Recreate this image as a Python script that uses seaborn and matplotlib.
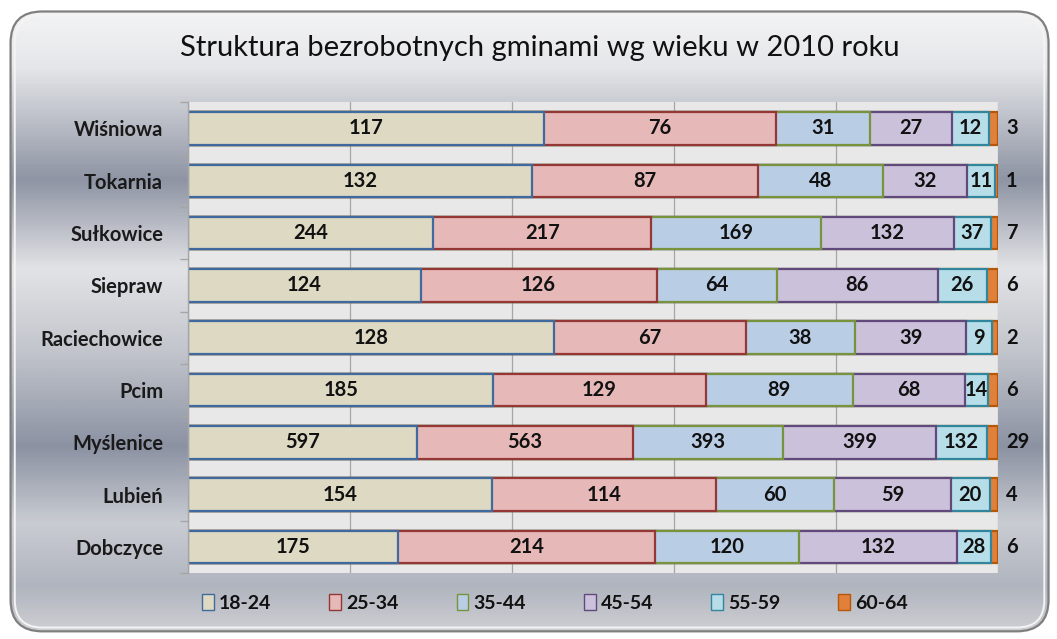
import numpy as np
import pandas as pd
import matplotlib
matplotlib.use("Agg")
import matplotlib.pyplot as plt
import seaborn as sns
from matplotlib.colors import LinearSegmentedColormap
from matplotlib.patches import FancyBboxPatch, Patch

# ---------------- data ----------------
title = "Struktura bezrobotnych gminami wg wieku w 2010 roku"
gminy = ["Wiśniowa", "Tokarnia", "Sułkowice", "Siepraw", "Raciechowice",
         "Pcim", "Myślenice", "Lubień", "Dobczyce"]
age_groups = ["18-24", "25-34", "35-44", "45-54", "55-59", "60-64"]
v_18_24 = [117, 132, 244, 124, 128, 185, 597, 154, 175]
v_25_34 = [76, 87, 217, 126, 67, 129, 563, 114, 214]
v_35_44 = [31, 48, 169, 64, 38, 89, 393, 60, 120]
v_45_54 = [27, 32, 132, 86, 39, 68, 399, 59, 132]
v_55_59 = [12, 11, 37, 26, 9, 14, 132, 20, 28]
v_60_64 = [3, 1, 7, 6, 2, 6, 29, 4, 6]

fills = ["#DDD9C3", "#E6B9B8", "#B9CDE5", "#CCC1DA", "#B7DEE8", "#E0803A"]
edges = ["#3F6A9E", "#953735", "#77933C", "#604A7B", "#31859C", "#B65708"]

series = [v_18_24, v_25_34, v_35_44, v_45_54, v_55_59, v_60_64]
rows = []
for gi, g in enumerate(gminy):
    tot = sum(s[gi] for s in series)
    cum = 0.0
    for ai, a in enumerate(age_groups):
        val = series[ai][gi]
        share = val / tot
        cum += share
        rows.append(dict(gmina=g, group=a, value=val, share=share, cum=cum))
df = pd.DataFrame(rows)

# ---------------- style ----------------
sns.set_theme(style="white")
plt.rcParams["font.family"] = ["Lato", "DejaVu Sans"]

fig = plt.figure(figsize=(10.57, 6.39), dpi=100, facecolor="white")

# background gradient with rounded frame
bg = fig.add_axes([0, 0, 1, 1], zorder=-10)
bg.set_xlim(0, 1)
bg.set_ylim(0, 1)
bg.axis("off")
stops = [(0.0, "#d2d3d6"), (0.08, "#b0b4be"), (0.18, "#c9ccd2"), (0.30, "#8b92a2"),
         (0.45, "#c2c5cc"), (0.58, "#e2e3e6"), (0.72, "#8e94a3"),
         (0.90, "#e6e7ea"), (1.0, "#f6f6f6")]
cmap = LinearSegmentedColormap.from_list("silver", stops)
grad = np.linspace(0, 1, 400).reshape(-1, 1)
im = bg.imshow(grad, aspect="auto", cmap=cmap, extent=[0, 1, 0, 1], origin="lower")
frame = FancyBboxPatch((0.010, 0.012), 0.982, 0.970,
                       boxstyle="round,pad=0,rounding_size=0.03",
                       transform=bg.transAxes, facecolor="none",
                       edgecolor="#7f7f7f", linewidth=1.6, mutation_aspect=1.65)
bg.add_patch(frame)
im.set_clip_path(frame)
inner = FancyBboxPatch((0.014, 0.018), 0.974, 0.958,
                       boxstyle="round,pad=0,rounding_size=0.026",
                       transform=bg.transAxes, facecolor="none",
                       edgecolor="#f4f4f4", linewidth=1.4, mutation_aspect=1.65)
bg.add_patch(inner)

# main axes
ax = fig.add_axes([0.178, 0.103, 0.766, 0.737])
ax.set_facecolor("#E8E8E8")

for ai in reversed(range(len(age_groups))):
    sub = df[df["group"] == age_groups[ai]]
    sns.barplot(data=sub, x="cum", y="gmina", order=gminy, orient="h",
                color=fills[ai], edgecolor=edges[ai], linewidth=1.6,
                saturation=1, width=0.62, ax=ax, errorbar=None)

ax.set_xlim(0, 1)
ax.set_ylim(8.5, -0.5)
ax.set_xticks([0, 0.2, 0.4, 0.6, 0.8, 1.0])
ax.set_xticklabels([])
ax.tick_params(axis="x", length=0)
ax.grid(axis="x", color="#A6A6A6", linewidth=0.9)
ax.set_axisbelow(True)
ax.set_xlabel("")
ax.set_ylabel("")
for s in ["top", "right", "bottom"]:
    ax.spines[s].set_visible(False)
ax.spines["left"].set_color("#A6A6A6")
ax.spines["left"].set_linewidth(1.0)
ax.set_yticks(range(len(gminy)))
ax.set_yticklabels(gminy, fontsize=14.5, fontweight="bold", color="#1a1a1a")
ax.set_yticks(np.arange(-0.5, len(gminy), 1), minor=True)
ax.tick_params(axis="y", which="major", length=0, pad=18)
ax.tick_params(axis="y", which="minor", length=6, color="#A6A6A6", width=1.0, left=True)

# value labels
for gi, g in enumerate(gminy):
    sub = df[df["gmina"] == g]
    for ai, a in enumerate(age_groups):
        r = sub[sub["group"] == a].iloc[0]
        if ai < len(age_groups) - 1:
            ax.text(r["cum"] - r["share"] / 2, gi, str(r["value"]), ha="center",
                    va="center", fontsize=14.5, fontweight="bold", color="#111111")
        else:
            ax.annotate(str(r["value"]), xy=(1.0, gi), xytext=(6, 0),
                        textcoords="offset points", ha="left", va="center",
                        fontsize=14.5, fontweight="bold", color="#111111",
                        annotation_clip=False)

fig.text(0.511, 0.925, title, ha="center", va="center", fontsize=21, color="#111111")

handles = [Patch(facecolor=fills[i], edgecolor=edges[i], linewidth=1.0, label=age_groups[i])
           for i in range(len(age_groups))]
leg = fig.legend(handles=handles, loc="center", bbox_to_anchor=(0.525, 0.056), ncol=6,
                 frameon=False, handlelength=0.6, handleheight=0.9, handletextpad=0.25,
                 columnspacing=3.0, fontsize=14)
for t in leg.get_texts():
    t.set_fontweight("bold")
    t.set_color("#111111")

fig.savefig("out.png", dpi=100, facecolor="white")
